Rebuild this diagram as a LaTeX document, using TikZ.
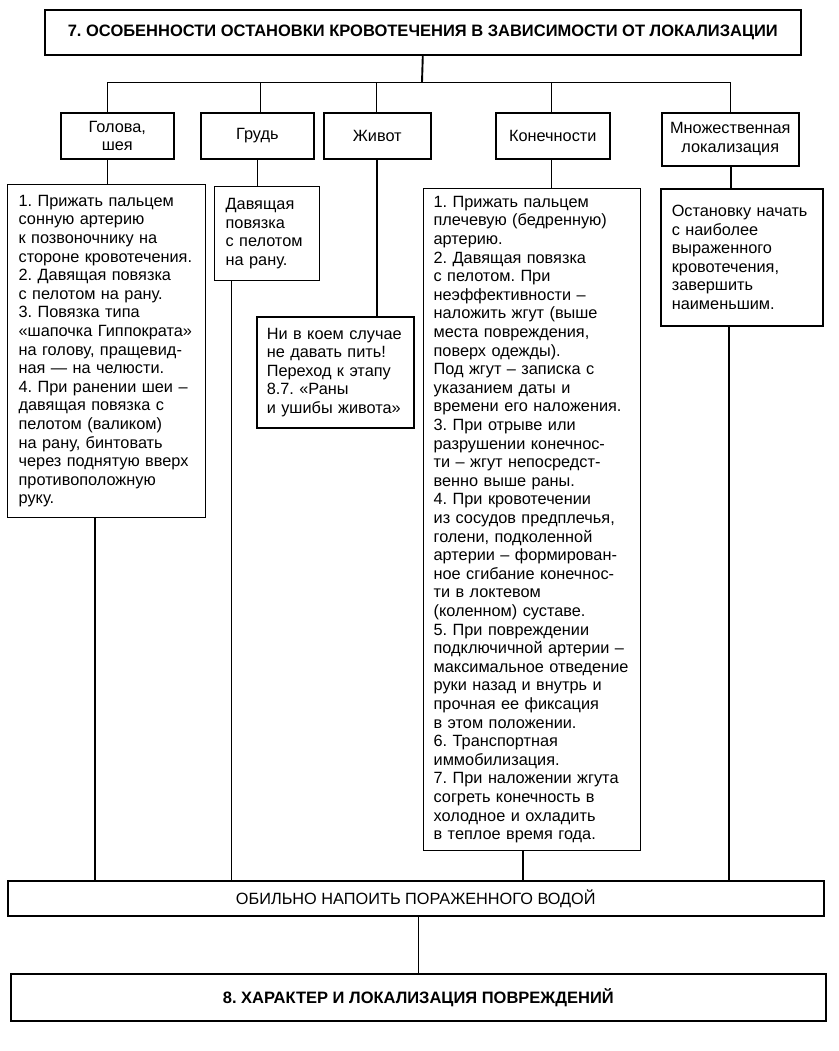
\documentclass[tikz,border=0pt]{standalone}
\usepackage{fontspec}
\setmainfont{Liberation Sans}
\newcommand\bodyfs{\fontsize{16.3}{18.6}\selectfont\frenchspacing}
\newcommand\titlefs{\fontsize{16.5}{18.6}\selectfont\bfseries\frenchspacing}
\begin{document}
\begin{tikzpicture}[x=1pt,y=-1pt,
  bx/.style={draw, line width=1.6pt, inner sep=0pt, anchor=north west, font=\bodyfs},
  hd/.style={bx, align=center},
  ct/.style={draw, line width=1.3pt, inner ysep=0pt, inner xsep=11pt, anchor=north west, align=left, font=\bodyfs},
  thin/.style={line width=0.9pt},
  thk/.style={line width=1.9pt}]
\useasboundingbox (0,0) rectangle (838,1051);

\node[bx, minimum width=756pt, minimum height=45pt, font=\titlefs] (title) at (44,9)
  {7. ОСОБЕННОСТИ ОСТАНОВКИ КРОВОТЕЧЕНИЯ В ЗАВИСИМОСТИ ОТ ЛОКАЛИЗАЦИИ};

\node[hd, minimum width=113pt, minimum height=46pt] (h1) at (60,112) {Голова,\\шея};
\node[hd, minimum width=113pt, minimum height=46pt] (h2) at (200,112) {Грудь};
\node[hd, minimum width=107pt, minimum height=46pt] (h3) at (323,112) {Живот};
\node[hd, minimum width=114pt, minimum height=46pt] (h4) at (495,112) {Конечности};
\node[hd, minimum width=137pt, minimum height=53pt] (h5) at (661,112) {Множественная\\локализация};

\node[ct, text width=176pt, minimum height=333pt] (c1) at (7,184)
  {1. Прижать пальцем\\
   сонную артерию\\
   к позвоночнику на\\
   стороне кровотечения.\\
   2. Давящая повязка\\
   с пелотом на рану.\\
   3. Повязка типа\\
   «шапочка Гиппократа»\\
   на голову, пращевид-\\
   ная — на челюсти.\\
   4. При ранении шеи –\\
   давящая повязка с\\
   пелотом (валиком)\\
   на рану, бинтовать\\
   через поднятую вверх\\
   противоположную\\
   руку.};

\node[ct, text width=83pt, minimum height=94pt] (c2) at (214,186)
  {Давящая\\повязка\\с пелотом\\на рану.};

\node[ct, line width=1.6pt, inner xsep=10pt, text width=137pt, minimum height=111pt] (c3) at (256,316)
  {Ни в коем случае\\
   не давать пить!\\
   Переход к этапу\\
   8.7. «Раны\\
   и ушибы живота»};

\node[ct, inner xsep=10pt, text width=197pt, minimum height=662pt] (c4) at (423,188)
  {1. Прижать пальцем\\
   плечевую (бедренную)\\
   артерию.\\
   2. Давящая повязка\\
   с пелотом. При\\
   неэффективности –\\
   наложить жгут (выше\\
   места повреждения,\\
   поверх одежды).\\
   Под жгут – записка с\\
   указанием даты и\\
   времени его наложения.\\
   3. При отрыве или\\
   разрушении конечнос-\\
   ти – жгут непосредст-\\
   венно выше раны.\\
   4. При кровотечении\\
   из сосудов предплечья,\\
   голени, подколенной\\
   артерии – формирован-\\
   ное сгибание конечнос-\\
   ти в локтевом\\
   (коленном) суставе.\\
   5. При повреждении\\
   подключичной артерии –\\
   максимальное отведение\\
   руки назад и внутрь и\\
   прочная ее фиксация\\
   в этом положении.\\
   6. Транспортная\\
   иммобилизация.\\
   7. При наложении жгута\\
   согреть конечность в\\
   холодное и охладить\\
   в теплое время года.};

\node[ct, line width=1.6pt, text width=140pt, minimum height=137pt] (c5) at (660,188)
  {Остановку начать\\
   с наиболее\\
   выраженного\\
   кровотечения,\\
   завершить\\
   наименьшим.};

\node[bx, minimum width=816pt, minimum height=35pt] (obil) at (7,880)
  {ОБИЛЬНО НАПОИТЬ ПОРАЖЕННОГО ВОДОЙ};

\node[bx, minimum width=815pt, minimum height=47pt, font=\titlefs] (fin) at (10,973)
  {8. ХАРАКТЕР И ЛОКАЛИЗАЦИЯ ПОВРЕЖДЕНИЙ};

% bus
\coordinate (bus) at (422,82);
\draw[thk] (title.south) -- (bus);
\draw[thin] ([xshift=-9.5pt]h1.north) |- (bus);
\draw[thin] ([xshift=3.5pt]h2.north) |- (bus);
\draw[thin] ([xshift=-0.5pt]h3.north) |- (bus);
\draw[thin] ([xshift=-1pt]h4.north) |- (bus);
\draw[thin] ([xshift=0.5pt]h5.north) |- (bus);

% headers to contents
\draw[thin] ([xshift=-9.5pt]h1.south) coordinate (a1) -- (a1 |- c1.north);
\draw[thin] (h2.south) coordinate (a2) -- (a2 |- c2.north);
\draw[thk] ([xshift=-0.5pt]h3.south) coordinate (a3) -- (a3 |- c3.north);
\draw[thin] ([xshift=-1pt]h4.south) coordinate (a4) -- (a4 |- c4.north);
\draw[thk] ([xshift=0.5pt]h5.south) coordinate (a5) -- (a5 |- c5.north);

% contents to obil
\draw[thk] ([xshift=-12pt]c1.south) coordinate (b1) -- (b1 |- obil.north);
\draw[thin] ([xshift=-35.5pt]c2.south) coordinate (b2) -- (b2 |- obil.north);
\draw[thk] ([xshift=-9.5pt]c4.south) coordinate (b4) -- (b4 |- obil.north);
\draw[thk] ([xshift=-13pt]c5.south) coordinate (b5) -- (b5 |- obil.north);

\draw[thin] ([xshift=3pt]obil.south) coordinate (b6) -- (b6 |- fin.north);
\end{tikzpicture}
\end{document}
